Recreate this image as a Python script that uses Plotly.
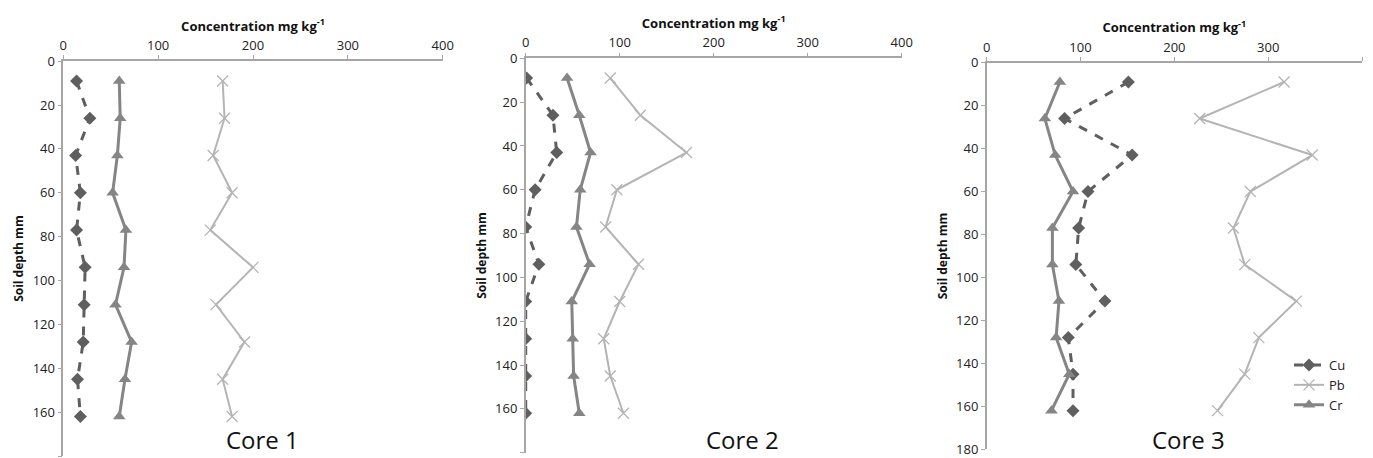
import plotly.graph_objects as go

depth = [9, 26, 43, 60, 77, 94, 111, 128, 145, 162]

core1_cu = [14, 28, 13, 18, 14, 23, 22, 21, 15, 18]
core1_pb = [168, 170, 158, 178, 155, 200, 161, 191, 168, 178]
core1_cr = [59, 60, 57, 52, 66, 64, 55, 72, 65, 59]

core2_cu = [1, 29, 33, 10, 0, 14, 0, 0, 0, 0]
core2_pb = [90, 122, 171, 97, 85, 120, 100, 83, 90, 104]
core2_cr = [44, 57, 69, 58, 54, 68, 49, 50, 51, 57]

core3_cu = [151, 83, 155, 108, 98, 95, 126, 87, 92, 92]
core3_pb = [317, 227, 347, 281, 263, 275, 330, 290, 275, 246]
core3_cr = [78, 62, 73, 92, 70, 70, 77, 74, 88, 69]

core_labels = ["Core 1", "Core 2", "Core 3"]
series_names = ["Cu", "Pb", "Cr"]
x_ticks = [0, 100, 200, 300, 400]
y_ticks = [0, 20, 40, 60, 80, 100, 120, 140, 160, 180]

cores = [
    (core1_cu, core1_pb, core1_cr),
    (core2_cu, core2_pb, core2_cr),
    (core3_cu, core3_pb, core3_cr),
]

W, H = 1373, 458
# plot-area pixel boxes (left, right, top, bottom)
boxes = [(63.3, 442.7, 61.2, 456.0), (525.7, 901.7, 58.3, 452.7), (986.7, 1362.0, 62.7, 449.3)]
core_pos = [(262, 458), (743, 458), (1188, 458)]

FONT = "Open Sans"
cu_col = "#5f5f5f"
pb_col = "#b4b4b4"
cr_col = "#858585"
axis_col = "#a6a6a6"

fig = go.Figure()

for i, (cu, pb, cr) in enumerate(cores):
    xa = "x" if i == 0 else f"x{i+1}"
    ya = "y" if i == 0 else f"y{i+1}"
    show = (i == 2)
    fig.add_trace(go.Scatter(x=cu, y=depth, xaxis=xa, yaxis=ya, name=series_names[0],
                             mode="lines+markers", showlegend=show,
                             line=dict(color=cu_col, width=3, dash="dash"),
                             marker=dict(symbol="diamond", size=10, color=cu_col)))
    fig.add_trace(go.Scatter(x=pb, y=depth, xaxis=xa, yaxis=ya, name=series_names[1],
                             mode="lines+markers", showlegend=show,
                             line=dict(color=pb_col, width=2),
                             marker=dict(symbol="x-thin", size=11, color=pb_col,
                                         line=dict(width=1.3, color=pb_col))))
    fig.add_trace(go.Scatter(x=cr, y=depth, xaxis=xa, yaxis=ya, name=series_names[2],
                             mode="lines+markers", showlegend=show,
                             line=dict(color=cr_col, width=3),
                             marker=dict(symbol="triangle-up", size=11, color=cr_col)))

layout = dict(
    width=W, height=H,
    margin=dict(l=0, r=0, t=0, b=0, autoexpand=False),
    paper_bgcolor="white", plot_bgcolor="white",
    font=dict(family=FONT, size=13, color="#222222"),
    legend=dict(x=1289 / W, y=1 - 350 / H, xanchor="left", yanchor="top",
                font=dict(family=FONT, size=13, color="#222222"),
                bgcolor="rgba(0,0,0,0)", tracegroupgap=0, itemwidth=30),
    annotations=[],
)

for i, (l, r, t, b) in enumerate(boxes):
    xk = "xaxis" if i == 0 else f"xaxis{i+1}"
    yk = "yaxis" if i == 0 else f"yaxis{i+1}"
    ya = "y" if i == 0 else f"y{i+1}"
    xa = "x" if i == 0 else f"x{i+1}"
    layout[xk] = dict(
        domain=[l / W, r / W], anchor=ya, side="top", range=[0, 400],
        tickvals=x_ticks, ticks="outside", ticklen=4, tickcolor=axis_col,
        showline=True, linecolor=axis_col, linewidth=1.5, showgrid=False, zeroline=False,
        tickfont=dict(family=FONT, size=13, color="#222222"),
        title=dict(text="<b>Concentration mg kg<sup>-1</sup></b>",
                   font=dict(family=FONT, size=13, color="#111111"), standoff=2),
    )
    layout[yk] = dict(
        domain=[1 - b / H, 1 - t / H], anchor=xa, range=[180, 0],
        tickvals=y_ticks, ticks="outside", ticklen=4, tickcolor=axis_col,
        showline=True, linecolor=axis_col, linewidth=1.5, showgrid=False, zeroline=False,
        tickfont=dict(family=FONT, size=13, color="#222222"),
        title=dict(text="<b>Soil depth mm</b>",
                   font=dict(family=FONT, size=12, color="#111111"), standoff=6),
    )
    cx, cy = core_pos[i]
    layout["annotations"].append(dict(
        text=core_labels[i], x=cx / W, y=1 - cy / H, xref="paper", yref="paper",
        xanchor="center", yanchor="bottom", showarrow=False,
        font=dict(family=FONT, size=24, color="#111111")))

fig.update_layout(**layout)
fig.write_html("out.html")
